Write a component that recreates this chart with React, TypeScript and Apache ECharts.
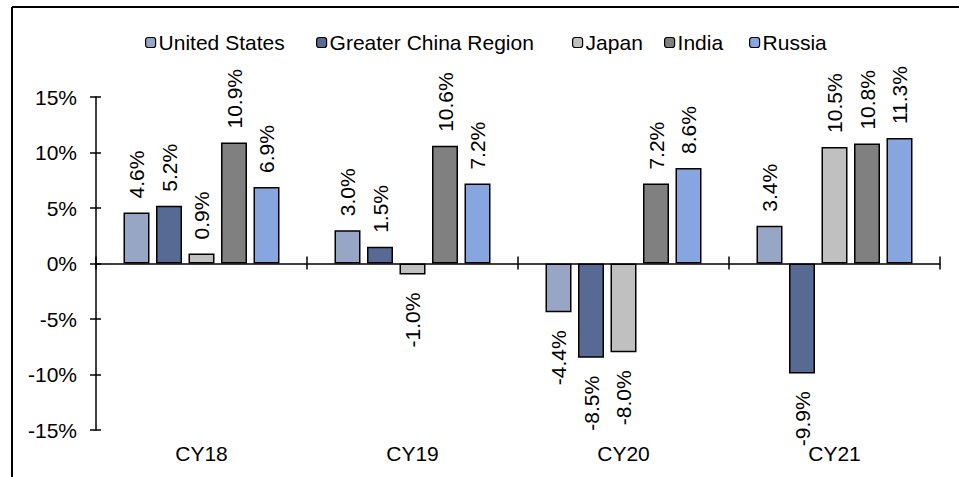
import React, { useEffect, useRef } from "react";
import * as echarts from "echarts";

// Year-on-year growth by region, calendar years 2018-2021 (%)
const categories = ["CY18", "CY19", "CY20", "CY21"];
const regions = ["United States", "Greater China Region", "Japan", "India", "Russia"];
const unitedStates = [4.6, 3.0, -4.4, 3.4];
const greaterChina = [5.2, 1.5, -8.5, -9.9];
const japan = [0.9, -1.0, -8.0, 10.5];
const india = [10.9, 10.6, 7.2, 10.8];
const russia = [6.9, 7.2, 8.6, 11.3];
const yTicks = { min: -15, max: 15, interval: 5 };

const seriesValues = [unitedStates, greaterChina, japan, india, russia];
const colors = ["#97A6C4", "#566A94", "#C0C0C0", "#808080", "#87A6E0"];
const legendLeft = [145, 316, 572, 664, 749];

const FONT = "'Liberation Sans', Arial, Helvetica, sans-serif";

export default function App() {
  const ref = useRef<HTMLDivElement>(null);

  useEffect(() => {
    if (!ref.current) return;
    const chart = echarts.init(ref.current, undefined, { renderer: "svg" });

    const series = regions.map((name, si) => ({
      name,
      type: "bar",
      xAxisIndex: 0,
      yAxisIndex: 0,
      barWidth: 26,
      barGap: "25%",
      itemStyle: { color: colors[si], borderColor: "#000", borderWidth: 1.5 },
      data: seriesValues[si].map((v) => ({
        value: v,
        label:
          v >= 0
            ? { position: "top", align: "left", distance: 14 }
            : { position: "bottom", align: "right", distance: 18 },
      })),
      label: {
        show: true,
        rotate: 90,
        verticalAlign: "middle",
        fontSize: 21,
        fontFamily: FONT,
        color: "#000",
        formatter: (p: any) => `${Number(p.value).toFixed(1)}%`,
      },
    }));

    const baseCat = {
      type: "category",
      data: categories,
      position: "bottom",
      boundaryGap: true,
      splitLine: { show: false },
    };

    chart.setOption({
      animation: false,
      backgroundColor: "#fff",
      textStyle: { fontFamily: FONT },
      legend: regions.map((name, i) => ({
        data: [name],
        left: legendLeft[i],
        top: 32,
        padding: 0,
        itemWidth: 10,
        itemHeight: 10,
        itemStyle: { borderWidth: 1.2 },
        textStyle: {
          fontSize: 21,
          fontFamily: FONT,
          color: "#000",
          lineHeight: 21,
          padding: [0, 0, 0, -2],
        },
        selectedMode: false,
      })),
      grid: { left: 96, right: 19, top: 97, bottom: 47, containLabel: false },
      xAxis: [
        {
          ...baseCat,
          axisLine: { show: false, onZero: false },
          axisTick: { show: false },
          axisLabel: { fontSize: 21, fontFamily: FONT, color: "#000", margin: 13 },
        },
        {
          ...baseCat,
          axisLine: { show: true, onZero: true, onZeroAxisIndex: 0, lineStyle: { color: "#000", width: 1.5 } },
          axisTick: { show: true, inside: true, length: 7, lineStyle: { color: "#000", width: 1.5 } },
          axisLabel: { show: false },
        },
        {
          ...baseCat,
          axisLine: { show: false, onZero: true, onZeroAxisIndex: 0 },
          axisTick: { show: true, inside: false, length: 6, lineStyle: { color: "#000", width: 1.5 } },
          axisLabel: { show: false },
        },
      ],
      yAxis: [
        {
          type: "value",
          position: "left",
          ...yTicks,
          splitLine: { show: false },
          axisLine: { show: true, onZero: false, lineStyle: { color: "#000", width: 1.5 } },
          axisTick: { show: true, inside: false, length: 6, lineStyle: { color: "#000", width: 1.5 } },
          axisLabel: {
            fontSize: 21,
            fontFamily: FONT,
            color: "#000",
            margin: 19,
            formatter: "{value}%",
          },
        },
        {
          type: "value",
          position: "left",
          ...yTicks,
          splitLine: { show: false },
          axisLine: { show: false, onZero: false },
          axisTick: { show: true, inside: true, length: 5, lineStyle: { color: "#000", width: 1.5 } },
          axisLabel: { show: false },
        },
      ],
      graphic: [
        {
          type: "line",
          shape: { x1: 12, y1: 7, x2: 959, y2: 7 },
          style: { stroke: "#000", lineWidth: 2 },
        },
        {
          type: "line",
          shape: { x1: 12, y1: 7, x2: 12, y2: 477 },
          style: { stroke: "#000", lineWidth: 2 },
        },
      ],
      series,
    });

    return () => chart.dispose();
  }, []);

  return (
    <div
      ref={ref}
      style={{ position: "fixed", left: 0, top: 0, width: 959, height: 477, background: "#fff" }}
    />
  );
}
